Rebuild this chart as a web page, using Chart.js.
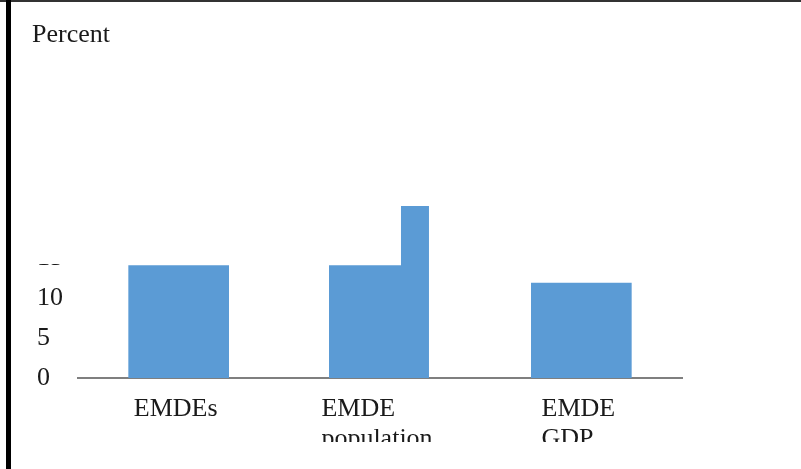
<!DOCTYPE html>
<html>
<head>
<meta charset="utf-8">
<script src="https://cdn.jsdelivr.net/npm/chart.js@4"></script>
<style>
  html, body { margin: 0; padding: 0; background: #fff; }
  #page { position: relative; width: 801px; height: 469px; overflow: hidden; background: #fff; }
  #topline { position: absolute; left: 0; top: 0; width: 801px; height: 2px; background: #333; }
  #leftbar { position: absolute; left: 6px; top: 0; width: 5px; height: 469px; background: #000; }
  #clip { position: absolute; left: 0; top: 0; width: 801px; height: 442px; overflow: hidden; }
</style>
</head>
<body>
<div id="page">
  <div id="clip"><canvas id="chart" width="801" height="469"></canvas></div>
  <div id="topline"></div>
  <div id="leftbar"></div>
</div>
<script>
// data
const categories = [['EMDEs'], ['EMDE', 'population'], ['EMDE', 'GDP']];
const shareValues = [14.1, 14.1, 11.9];
const extraValues = [null, 21.5, null];
const yTicks = [0, 5, 10, 15];

const barBlue = '#5b9bd5';
const serif = 'Liberation Serif';

// single bars where there is no second value, split pair where there is
const singleData = shareValues.map((v, i) => extraValues[i] == null ? v : null);
const pairData = shareValues.map((v, i) => extraValues[i] == null ? null : v);

// "Percent" heading, category labels (left aligned lines), and the clipped top tick
const decorations = {
  id: 'decorations',
  afterDraw(chart) {
    const ctx = chart.ctx;
    const x = chart.scales.x;
    const y = chart.scales.y;
    ctx.save();

    // the top of the axis labels is cut off in the original
    ctx.fillStyle = '#fff';
    ctx.fillRect(y.left - 5, 0, y.width + 4, 264);

    ctx.fillStyle = '#1a1a1a';
    ctx.font = '26px "' + serif + '"';
    ctx.textBaseline = 'alphabetic';
    ctx.textAlign = 'left';
    ctx.fillText('Percent', 32, 42);

    categories.forEach((lines, i) => {
      const cx = x.getPixelForTick(i);
      const widest = Math.max(...lines.map(l => ctx.measureText(l).width));
      lines.forEach((line, j) => {
        ctx.fillText(line, cx - widest / 2 - 3, x.top + 38 + j * 30);
      });
    });
    ctx.restore();
  }
};

new Chart(document.getElementById('chart').getContext('2d'), {
  type: 'bar',
  data: {
    labels: categories,
    datasets: [
      { data: singleData, backgroundColor: barBlue, categoryPercentage: 1, barPercentage: 0.5 },
      { data: pairData, backgroundColor: barBlue, categoryPercentage: 0.298, barPercentage: 2.4 },
      { data: extraValues, backgroundColor: barBlue, categoryPercentage: 0.695, barPercentage: 0.4 }
    ]
  },
  options: {
    responsive: false,
    animation: false,
    skipNull: true,
    layout: { padding: { left: 37, right: 119, top: 178, bottom: 0 } },
    plugins: { legend: { display: false }, tooltip: { enabled: false } },
    scales: {
      x: {
        grid: { display: false, drawTicks: false },
        border: { display: true, color: '#7f7f7f', width: 2 },
        ticks: { display: false },
        afterFit: s => { s.height = 91; }
      },
      y: {
        min: 0,
        max: 25,
        grid: { display: false, drawTicks: false },
        border: { display: false },
        afterBuildTicks: s => { s.ticks = yTicks.map(v => ({ value: v })); },
        ticks: {
          color: '#1a1a1a',
          font: { family: serif, size: 26 },
          crossAlign: 'far',
          padding: 0
        },
        afterFit: s => { s.width = 41; }
      }
    }
  },
  plugins: [decorations]
});
</script>
</body>
</html>
